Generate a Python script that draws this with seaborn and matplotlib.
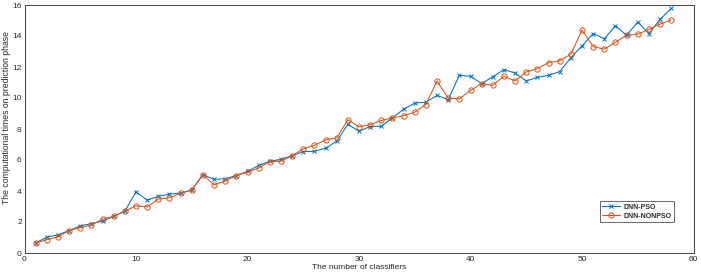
import numpy as np
import pandas as pd
import matplotlib
matplotlib.use("Agg")
import matplotlib.pyplot as plt
import seaborn as sns

classifiers = list(range(1, 59))

dnn_pso = [0.65, 1.02, 1.17, 1.45, 1.75, 1.90, 2.05, 2.37, 2.70, 3.95,
           3.41, 3.65, 3.80, 3.87, 4.06, 5.05, 4.75, 4.79, 5.00, 5.27,
           5.65, 5.91, 6.05, 6.28, 6.54, 6.56, 6.76, 7.21, 8.30, 7.86,
           8.16, 8.18, 8.72, 9.28, 9.67, 9.73, 10.17, 9.89, 11.46, 11.40,
           10.93, 11.37, 11.83, 11.61, 11.10, 11.33, 11.46, 11.70, 12.60, 13.36,
           14.16, 13.82, 14.66, 14.05, 14.90, 14.16, 15.07, 15.78]

dnn_nonpso = [0.65, 0.86, 1.04, 1.45, 1.64, 1.81, 2.18, 2.37, 2.70, 3.04,
              2.98, 3.48, 3.56, 3.85, 4.06, 5.05, 4.40, 4.64, 5.00, 5.22,
              5.48, 5.90, 5.92, 6.28, 6.72, 6.95, 7.30, 7.43, 8.60, 8.14,
              8.27, 8.55, 8.72, 8.85, 9.09, 9.58, 11.10, 9.99, 9.95, 10.49,
              10.93, 10.82, 11.40, 11.10, 11.68, 11.90, 12.28, 12.41, 12.82, 14.38,
              13.32, 13.15, 13.60, 14.05, 14.12, 14.42, 14.77, 15.03]

sns.set_style("white")
plt.rcParams["font.family"] = ["Liberation Sans", "DejaVu Sans"]

fig = plt.figure(figsize=(7.01, 2.79), dpi=100)
ax = fig.add_axes([24.5 / 701, 1 - 253 / 279, 669 / 701, 248 / 279])

# MATLAB default colours
sns.lineplot(x=classifiers, y=dnn_pso, color="#0072BD", marker="x",
             markersize=3.5, markeredgecolor="#0072BD", markeredgewidth=0.7,
             linewidth=0.75, label="DNN-PSO", ax=ax)
sns.lineplot(x=classifiers, y=dnn_nonpso, color="#D95319", marker="o",
             markersize=3.8, markerfacecolor="none", markeredgecolor="#D95319",
             markeredgewidth=0.7, linewidth=0.75, label="DNN-NONPSO", ax=ax)

ax.set_xlim(0, 60)
ax.set_ylim(0, 16)
ax.set_xticks(range(0, 61, 10))
ax.set_yticks(range(0, 17, 2))
ax.tick_params(direction="in", length=3, labelsize=6, colors="#262626", pad=2)
ax.set_xlabel("The number of classifiers", fontsize=6, labelpad=1)
ax.set_ylabel("The computational times on prediction phase", fontsize=6.2)
ax.yaxis.set_label_coords(-0.02, 0.548)
for s in ax.spines.values():
    s.set_color("#262626")
    s.set_linewidth(0.6)

leg = ax.legend(loc="lower right", bbox_to_anchor=(0.971, 0.125), borderaxespad=0,
                fontsize=5, frameon=True, fancybox=False, edgecolor="#262626",
                handlelength=2.6, handletextpad=0.5, borderpad=0.35, labelspacing=0.25)
leg.get_frame().set_linewidth(0.6)
for t in leg.get_texts():
    t.set_fontweight("bold")

fig.savefig("out.png", dpi=100)
